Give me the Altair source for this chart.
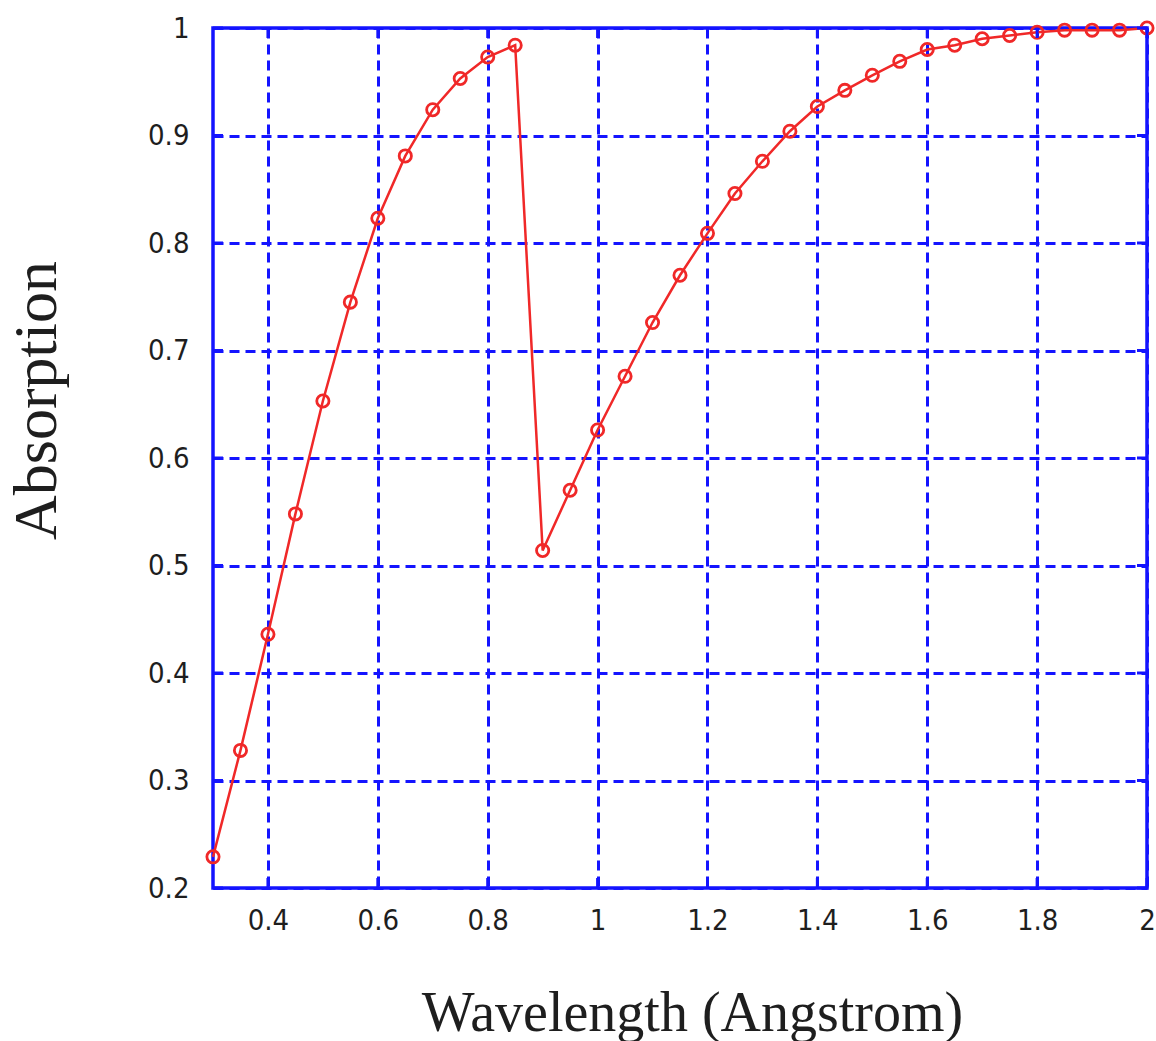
import altair as alt
import pandas as pd

# Absorption spectrum sampled every 0.05 Angstrom
wavelength = [0.30, 0.35, 0.40, 0.45, 0.50, 0.55, 0.60, 0.65, 0.70, 0.75,
              0.80, 0.85, 0.90, 0.95, 1.00, 1.05, 1.10, 1.15, 1.20, 1.25,
              1.30, 1.35, 1.40, 1.45, 1.50, 1.55, 1.60, 1.65, 1.70, 1.75,
              1.80, 1.85, 1.90, 1.95, 2.00]
absorption = [0.229, 0.328, 0.436, 0.548, 0.653, 0.745, 0.823, 0.881, 0.924, 0.953,
              0.973, 0.984, 0.514, 0.570, 0.626, 0.676, 0.726, 0.770, 0.809, 0.846,
              0.876, 0.904, 0.927, 0.942, 0.956, 0.969, 0.980, 0.984, 0.990, 0.993,
              0.996, 0.998, 0.998, 0.998, 1.000]

x_ticks = [0.4, 0.6, 0.8, 1.0, 1.2, 1.4, 1.6, 1.8, 2.0]
y_ticks = [0.2, 0.3, 0.4, 0.5, 0.6, 0.7, 0.8, 0.9, 1.0]

W, H = 934, 860
BLUE = "#1414ff"
RED = "#f02828"
TEXT = "#1e1e1e"
TICK_LEN = 10
LABEL_FONT = "'DejaVu Sans Condensed', 'Liberation Sans Narrow', 'DejaVu Sans', sans-serif"

df = pd.DataFrame({"wavelength": wavelength, "absorption": absorption})
xdf = pd.DataFrame({"wavelength": x_ticks})
ydf = pd.DataFrame({"absorption": y_ticks})

xs = alt.Scale(domain=[0.3, 2.0], nice=False, zero=False)
ys = alt.Scale(domain=[0.2, 1.0], nice=False, zero=False)

grid_axis = dict(
    grid=True, gridColor=BLUE, gridDash=[10, 6], gridWidth=3,
    domain=False, ticks=False,
    labelFont=LABEL_FONT, labelFontSize=29, labelColor=TEXT,
    format="~g", labelFlush=False,
    titleFont="Liberation Serif", titleFontWeight="normal", titleColor=TEXT,
)

x_enc = alt.X(
    "wavelength:Q", scale=xs,
    axis=alt.Axis(values=x_ticks, title="Wavelength (Angstrom)", labelPadding=18,
                  titleFontSize=56, titleX=479, titleY=142, titleBaseline="alphabetic",
                  titleAnchor="middle", titleAlign="center", **grid_axis),
)
y_enc = alt.Y(
    "absorption:Q", scale=ys,
    axis=alt.Axis(values=y_ticks, title="Absorption", labelPadding=24,
                  titleFontSize=62, titleX=-158, titleY=372, titleAngle=270,
                  titleBaseline="alphabetic", titleAlign="center", **grid_axis),
)

line = alt.Chart(df).mark_line(color=RED, strokeWidth=2.5).encode(x=x_enc, y=y_enc)
points = alt.Chart(df).mark_point(
    shape="circle", filled=False, color=RED, size=150, strokeWidth=2.8, opacity=1
).encode(x=x_enc, y=y_enc)

# short solid ticks pointing into the frame on all four sides
tick_style = dict(color=BLUE, strokeWidth=3)
bottom_ticks = alt.Chart(xdf).mark_rule(**tick_style).encode(
    x=x_enc, y=alt.value(H), y2=alt.value(H - TICK_LEN))
top_ticks = alt.Chart(xdf).mark_rule(**tick_style).encode(
    x=x_enc, y=alt.value(0), y2=alt.value(TICK_LEN))
left_ticks = alt.Chart(ydf).mark_rule(**tick_style).encode(
    y=y_enc, x=alt.value(0), x2=alt.value(TICK_LEN))
right_ticks = alt.Chart(ydf).mark_rule(**tick_style).encode(
    y=y_enc, x=alt.value(W), x2=alt.value(W - TICK_LEN))

chart = alt.layer(
    line, points, bottom_ticks, top_ticks, left_ticks, right_ticks
).properties(
    width=W, height=H,
    autosize=alt.AutoSizeParams(type="none"),
    padding={"left": 213, "top": 28, "right": 9, "bottom": 153},
    background="white",
).configure_view(stroke=BLUE, strokeWidth=3.5)

chart.save("out.html", embed_options={"renderer": "svg", "actions": False})
